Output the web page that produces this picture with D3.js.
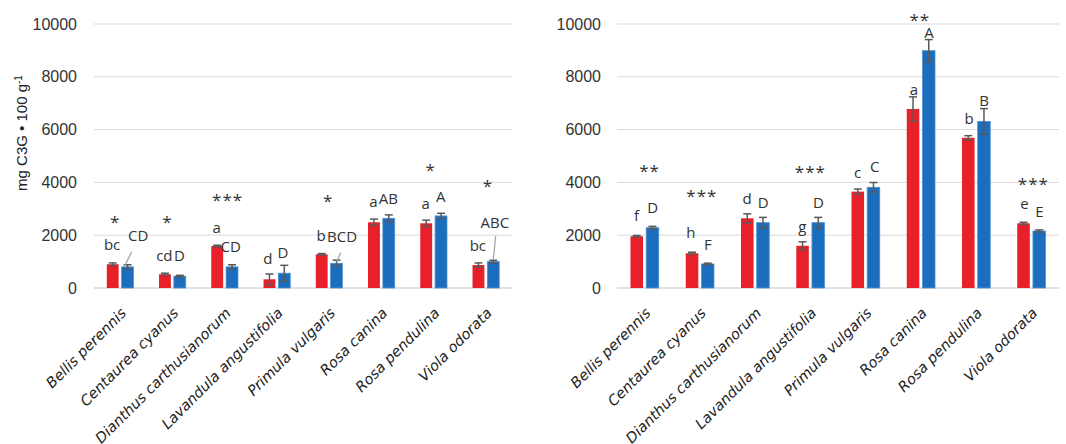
<!DOCTYPE html>
<html><head><meta charset="utf-8">
<script src="https://cdn.jsdelivr.net/npm/d3@7"></script>
<style>body{margin:0;background:#fff}svg{display:block}</style>
</head><body>
<svg id="c" width="1066" height="444"></svg>
<script>
const categories = ["Bellis perennis","Centaurea cyanus","Dianthus carthusianorum","Lavandula angustifolia","Primula vulgaris","Rosa canina","Rosa pendulina","Viola odorata"];
const yTicks = [0,2000,4000,6000,8000,10000];

// Left panel
const leftRed     = [900, 520, 1590, 330, 1275, 2490, 2450, 870];
const leftRedErr  = [50, 40, 30, 200, 30, 120, 120, 80];
const leftBlue    = [800, 450, 800, 560, 935, 2640, 2730, 1000];
const leftBlueErr = [80, 30, 80, 300, 120, 130, 100, 50];
const leftRedLetters  = ["bc","cd","a","d","b","a","a","bc"];
const leftBlueLetters = ["CD","D","CD","D","BCD","AB","A","ABC"];
const leftStars = ["*","*","***","","*","","*","*"];

// Right panel
const rightRed     = [1960, 1315, 2640, 1600, 3650, 6780, 5690, 2450];
const rightRedErr  = [30, 40, 170, 150, 100, 460, 80, 40];
const rightBlue    = [2285, 910, 2475, 2475, 3815, 8990, 6310, 2160];
const rightBlueErr = [50, 30, 200, 200, 180, 420, 485, 40];
const rightRedLetters  = ["f","h","d","g","c","a","b","e"];
const rightBlueLetters = ["D","F","D","D","C","A","B","E"];
const rightStars = ["**","***","","***","","**","",  "***"];

// annotation layout (y in data units, dx in px from group centre)
const leftLayout = {
  star:  [[-5,2690],[-5,2690],[3,3520],null,[-1,3450],null,[-3,4660],[2,4020]],
  red:   [[-8,1630],[-8,1210],[-8,2270],[-9,1100],[-8,1970],[-8,3260],[-8,3180],[-8,1590]],
  blue:  [[18,1970],[7,1210],[6,1550],[6,1330],[13,1930],[7,3370],[7,3450],[9,2460]],
  lead:  [[11.6,1375,5,870],null,null,null,[11.6,1340,7.6,1000],null,null,[9.8,1970,7.4,1060]]
};
const rightLayout = {
  star:  [[5,4620],[2,3670],null,[0,4580],null,[-1,10330],null,[2,4130]],
  red:   [[-8,2730],[-9,2080],[-8,3370],[-8,2310],[-8,4360],[-7,7500],[-7,6400],[-7,3180]],
  blue:  [[8,3030],[8,1630],[8,3220],[8,3220],[9,4580],[8,9650],[8,7080],[8,2880]],
  lead:  [null,null,null,null,null,null,null,null]
};

const svg = d3.select("#c");
const RED = "#E8202A", BLUE = "#1B6EBE";

function panel(opt){
  const g = svg.append("g");
  const y = d3.scaleLinear().domain([0,10000]).range([288,24]);
  const x0 = d3.scaleBand().domain(categories).range([opt.x0, opt.x1]);
  const x1 = d3.scaleBand().domain(["red","blue"]).range([0, x0.bandwidth()]).paddingInner(0.2).paddingOuter(0.86);
  const cx = c => x0(c) + x0.bandwidth()/2;

  // grid
  g.selectAll("line.grid").data(yTicks).join("line")
    .attr("x1", opt.x0).attr("x2", opt.x1)
    .attr("y1", d=>y(d)).attr("y2", d=>y(d))
    .attr("stroke", "#d9d9d9").attr("stroke-width", d=> d===0?1.5:1);
  // tick labels
  g.selectAll("text.tick").data(yTicks).join("text")
    .attr("x", opt.tickX).attr("y", d=>y(d)).attr("dy","0.35em")
    .attr("text-anchor","end").attr("font-family","Liberation Sans, Arial, sans-serif")
    .attr("font-size", 16).attr("fill","#333").text(d=>d);

  const series = [
    {key:"red", vals:opt.red, err:opt.redErr, fill:RED, stroke:"none"},
    {key:"blue", vals:opt.blue, err:opt.blueErr, fill:BLUE, stroke:"#4f90d0"}
  ];
  series.forEach(s=>{
    g.selectAll(null).data(categories).join("rect")
      .attr("x", c=>x0(c)+x1(s.key)).attr("width", x1.bandwidth())
      .attr("y", (c,i)=>y(s.vals[i])).attr("height",(c,i)=>y(0)-y(s.vals[i]))
      .attr("fill", s.fill).attr("stroke", s.stroke).attr("stroke-width",0.8);
    const ex = c => x0(c)+x1(s.key)+x1.bandwidth()/2;
    const eg = g.append("g").attr("stroke","#595959").attr("stroke-width",1.5);
    eg.selectAll(null).data(categories).join("line")
      .attr("x1",ex).attr("x2",ex)
      .attr("y1",(c,i)=>y(s.vals[i]+s.err[i])).attr("y2",(c,i)=>y(Math.max(0,s.vals[i]-s.err[i])));
    [1,-1].forEach(sg=>{
      eg.selectAll(null).data(categories).join("line")
        .attr("x1",c=>ex(c)-4).attr("x2",c=>ex(c)+4)
        .attr("y1",(c,i)=>y(Math.max(0,s.vals[i]+sg*s.err[i]))).attr("y2",(c,i)=>y(Math.max(0,s.vals[i]+sg*s.err[i])));
    });
  });

  // leader lines
  categories.forEach((c,i)=>{
    const l = opt.layout.lead[i]; if(!l) return;
    g.append("line").attr("x1",cx(c)+l[0]).attr("y1",y(l[1])).attr("x2",cx(c)+l[2]).attr("y2",y(l[3]))
      .attr("stroke","#a6a6a6").attr("stroke-width",1.3);
  });

  const txt = (x,yy,t,dy)=> g.append("text").attr("x",x).attr("y",yy).attr("dy",dy)
      .attr("text-anchor","middle").attr("font-family","Open Sans, sans-serif")
      .attr("font-size",15).attr("fill","#333").text(t);
  categories.forEach((c,i)=>{
    const L = opt.layout;
    if(opt.stars[i] && L.star[i]) txt(cx(c)+L.star[i][0], y(L.star[i][1]), opt.stars[i], "0.62em").attr("font-size",17).attr("letter-spacing","1px");
    txt(cx(c)+L.red[i][0], y(L.red[i][1]), opt.redL[i], "0.35em");
    txt(cx(c)+L.blue[i][0], y(L.blue[i][1]), opt.blueL[i], "0.35em");
  });

  // x labels
  g.selectAll("text.xl").data(categories).join("text")
    .attr("transform", c=>`translate(${cx(c)+7},${314}) rotate(-45)`)
    .attr("text-anchor","end").attr("font-family","DejaVu Sans, sans-serif")
    .attr("font-style","italic").attr("font-size",14.5).attr("fill","#222").text(c=>c);
}

panel({x0:94, x1:512, tickX:77, red:leftRed, redErr:leftRedErr, blue:leftBlue, blueErr:leftBlueErr,
  redL:leftRedLetters, blueL:leftBlueLetters, stars:leftStars, layout:leftLayout});
panel({x0:617, x1:1059, tickX:601, red:rightRed, redErr:rightRedErr, blue:rightBlue, blueErr:rightBlueErr,
  redL:rightRedLetters, blueL:rightBlueLetters, stars:rightStars, layout:rightLayout});

// y axis title
const yt = svg.append("text").attr("transform","translate(27,133) rotate(-90)")
  .attr("text-anchor","middle").attr("font-family","Liberation Sans, Arial, sans-serif")
  .attr("font-size",15).attr("fill","#222");
yt.append("tspan").text("mg C3G • 100 g");
yt.append("tspan").attr("baseline-shift","super").attr("font-size",10).text("-1");
</script>
</body></html>
